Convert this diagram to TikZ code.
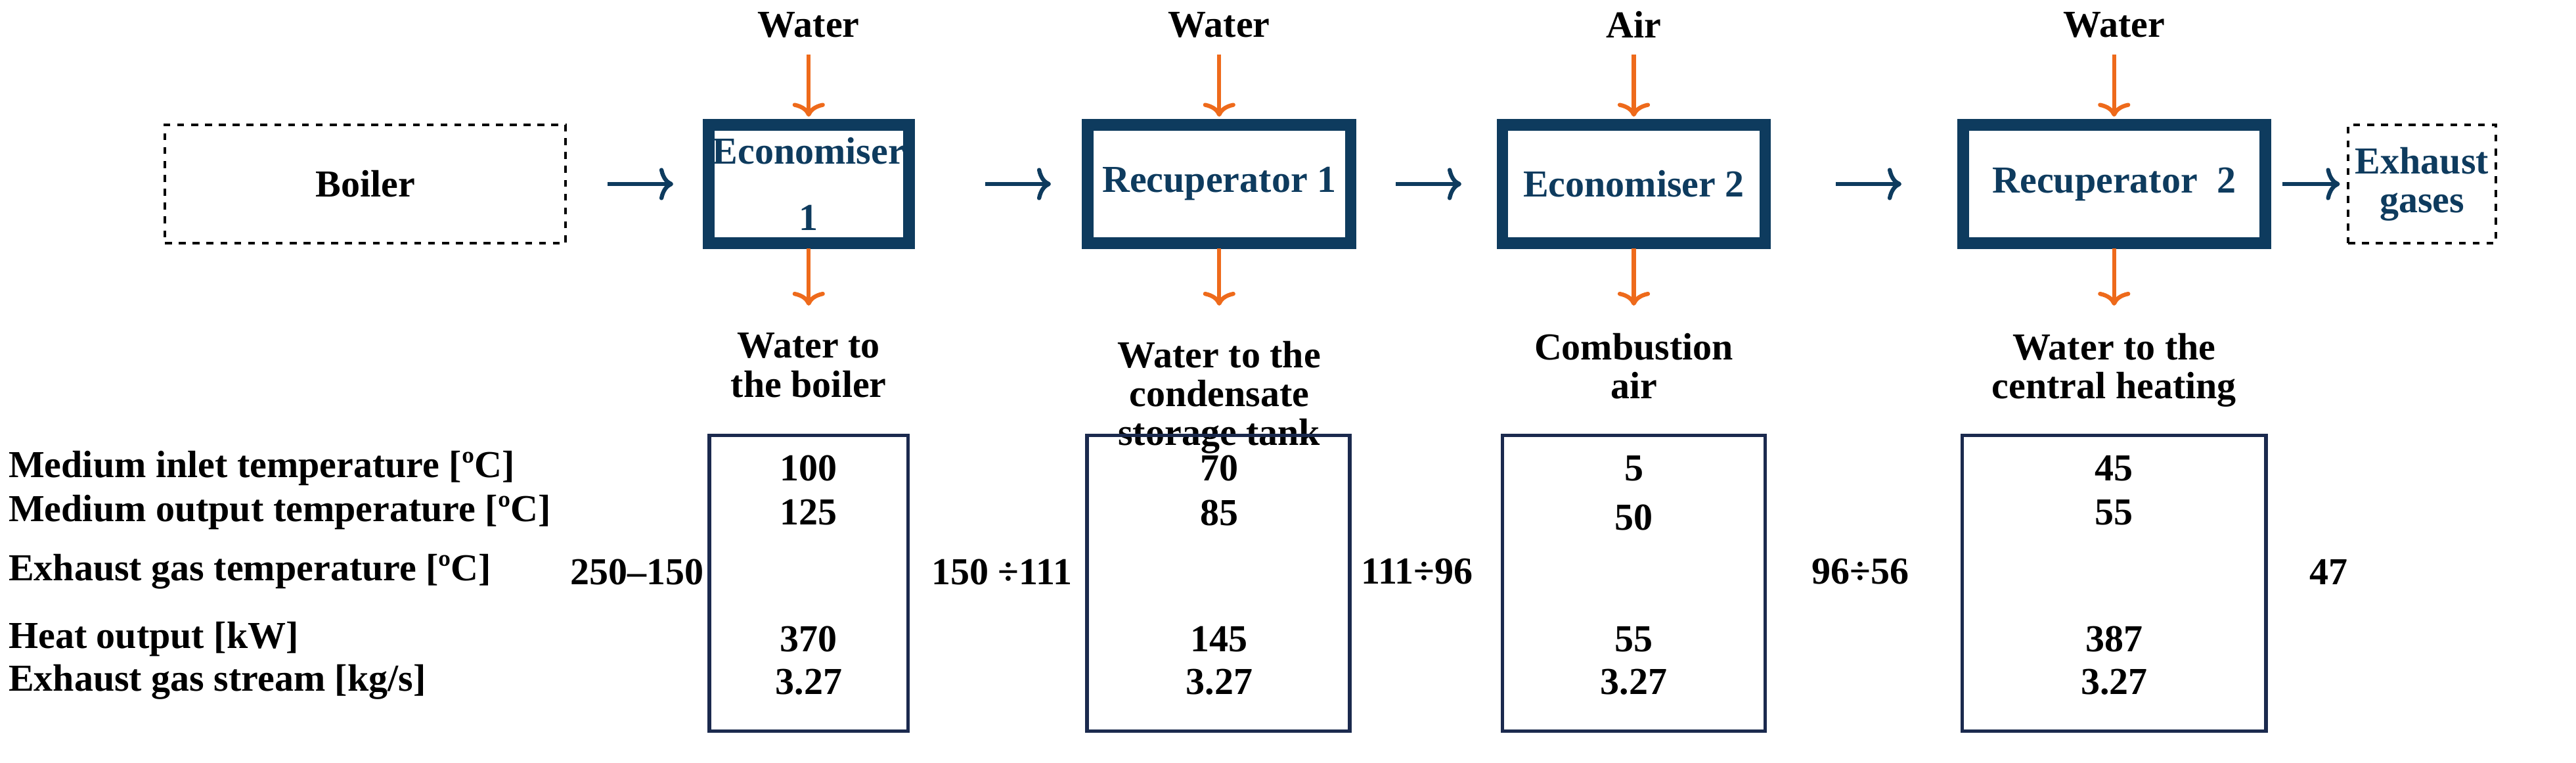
\documentclass[tikz,border=0pt]{standalone}
\usepackage{fontspec}
\setmainfont{Liberation Serif}
\usetikzlibrary{arrows.meta}
\begin{document}
\begin{tikzpicture}[x=0.0125cm,y=-0.0125cm,
  every node/.style={font=\bfseries\fontsize{16.5}{16.8}\selectfont, inner sep=0pt},
  hx/.style={draw=hxblue, line width=5pt, fill=white, text=hxblue, align=center, minimum height=1.8cm},
  ext/.style={draw=black, dashed, line width=1.1pt, text=black, align=center, minimum height=1.8cm},
  flow/.style={draw=hxblue, line width=1.8pt, -{To[length=6pt,width=14pt]}},
  med/.style={draw=hxorange, line width=1.8pt, -{To[length=6pt,width=14pt]}},
  tab/.style={draw=tabblue, line width=1.5pt},
  lbl/.style={anchor=west},
  val/.style={anchor=center}]
\definecolor{hxblue}{HTML}{0E3B5E}
\definecolor{hxorange}{HTML}{EE6A1B}
\definecolor{tabblue}{HTML}{1B2A4E}
\useasboundingbox (0,0) rectangle (3137.6,928);
% process boxes
\node[ext, minimum width=6.1cm] (boiler) at (445,224) {Boiler};
\node[hx, minimum width=3.05cm] (e1) at (985,224) {Economiser\\[12pt]1};
\node[hx, minimum width=4.0cm] (r1) at (1485,224) {Recuperator 1};
\node[hx, minimum width=4.0cm] (e2) at (1990,224) {Economiser 2};
\node[hx, minimum width=4.6cm] (r2) at (2575,224) {Recuperator~~2};
\node[ext, minimum width=2.25cm, text=hxblue] (ex) at (2950,224) {Exhaust\\gases};
% flow arrows
\coordinate (a1s) at (740,224); \coordinate (a1e) at (820,224);
\coordinate (a2s) at (1200,224); \coordinate (a2e) at (1280,224);
\coordinate (a3s) at (1700,224); \coordinate (a3e) at (1780,224);
\coordinate (a4s) at (2236,224); \coordinate (a4e) at (2316,224);
\coordinate (a5s) at (2780,224); \coordinate (a5e) at (2850,224);
\draw[flow] (a1s) -- (a1e);
\draw[flow] (a2s) -- (a2e);
\draw[flow] (a3s) -- (a3e);
\draw[flow] (a4s) -- (a4e);
\draw[flow] (a5s) -- (a5e);
% inputs
\node (i1) at (985,30) {Water};
\node (i2) at (1485,30) {Water};
\node (i3) at (1990,30) {Air};
\node (i4) at (2575,30) {Water};
\foreach \n/\x in {1/985,2/1485,3/1990,4/2575}{
  \coordinate (it\n) at (\x,66); \coordinate (ib\n) at (\x,142);
  \draw[med] (it\n) -- (ib\n);
  \coordinate (ot\n) at (\x,302); \coordinate (ob\n) at (\x,372);
  \draw[med] (ot\n) -- (ob\n);
}
% outputs
\node[align=center, anchor=north] (o1) at (985,405) {Water to\\the boiler};
\node[align=center, anchor=north] (o2) at (1485,415) {Water to the\\condensate\\storage tank};
\node[align=center, anchor=north] (o3) at (1990,405) {Combustion\\air};
\node[align=center, anchor=north] (o4) at (2575,405) {Water to the\\central heating};
% table boxes
\draw[tab] (864,530) rectangle (1106,890);
\draw[tab] (1324,530) rectangle (1644,890);
\draw[tab] (1830,530) rectangle (2150,890);
\draw[tab] (2390,530) rectangle (2760,890);
% row labels
\node[lbl] (l1) at (10,570) {Medium inlet temperature [ºC]};
\node[lbl] (l2) at (10,624) {Medium output temperature [ºC]};
\node[lbl] (l3) at (10,696) {Exhaust gas temperature [ºC]};
\node[lbl] (l4) at (10,778) {Heat output [kW]};
\node[lbl] (l5) at (10,830) {Exhaust gas stream [kg/s]};
% values
\node (v11) at (985,570) {100}; \node (v12) at (985,624) {125};
\node (v14) at (985,778) {370}; \node (v15) at (985,830) {3.27};
\node (v21) at (1485,570) {70}; \node (v22) at (1485,624) {85};
\node (v24) at (1485,778) {145}; \node (v25) at (1485,830) {3.27};
\node (v31) at (1990,570) {5}; \node (v32) at (1990,630) {50};
\node (v34) at (1990,778) {55}; \node (v35) at (1990,830) {3.27};
\node (v41) at (2575,570) {45}; \node (v42) at (2575,624) {55};
\node (v44) at (2575,778) {387}; \node (v45) at (2575,830) {3.27};
\node (g0) at (776,696) {250--150};
\node (g1) at (1220,696) {150 ÷111};
\node (g2) at (1726,696) {111÷96};
\node (g3) at (2266,696) {96÷56};
\node (g4) at (2836,696) {47};
\end{tikzpicture}
\end{document}
